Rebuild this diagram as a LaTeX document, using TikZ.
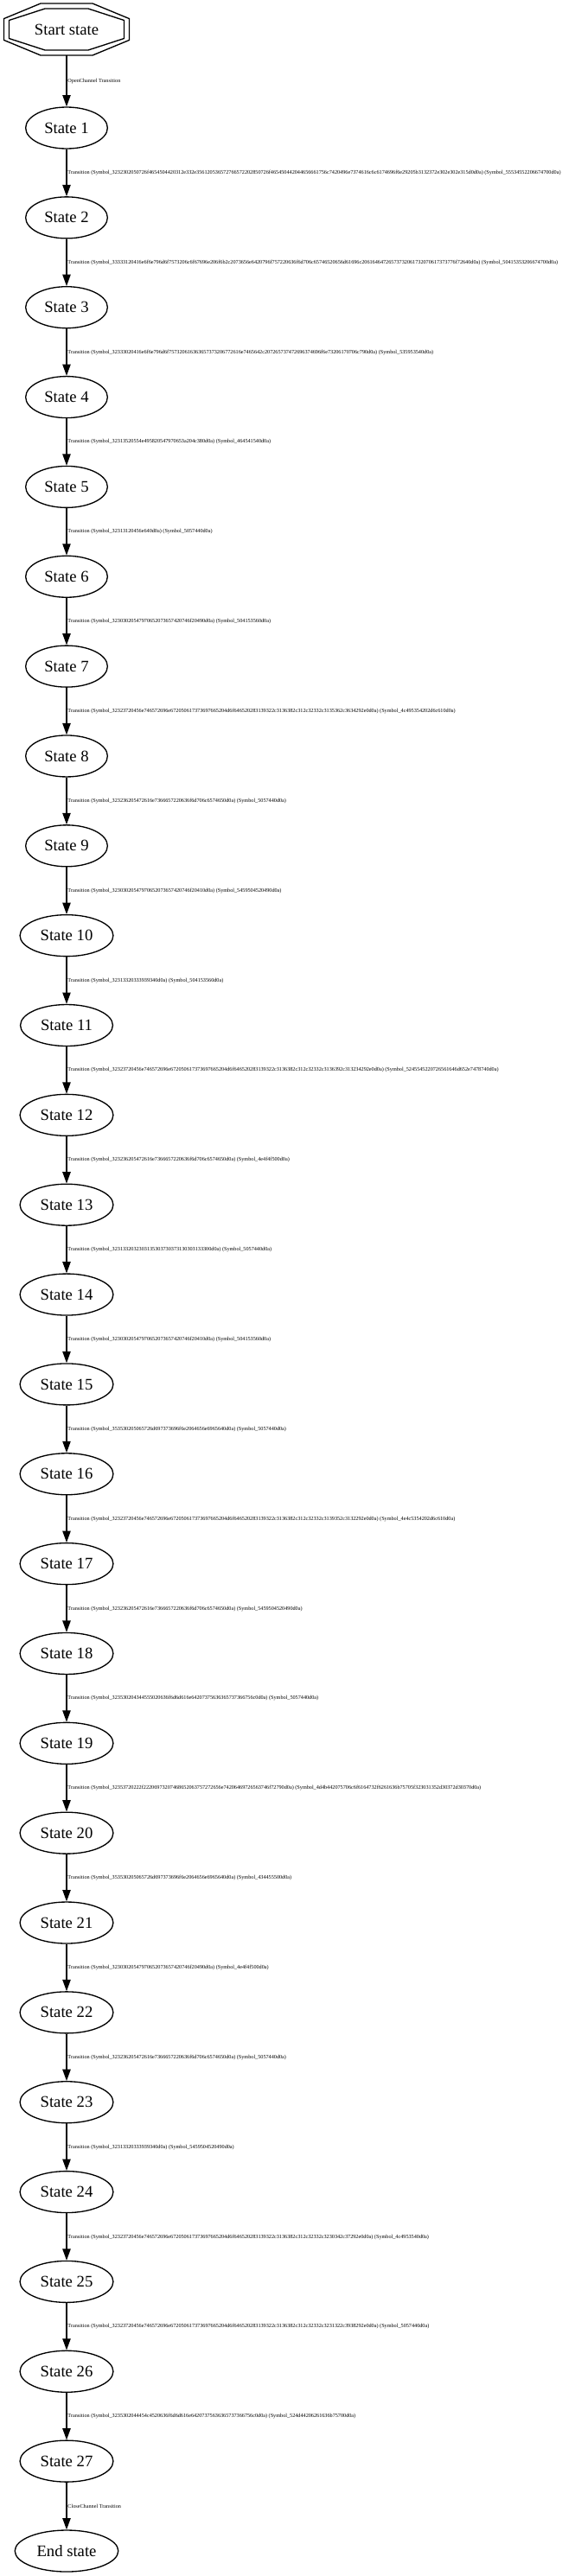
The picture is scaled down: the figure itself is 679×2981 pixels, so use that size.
\documentclass[tikz,border=0pt]{standalone}
\usepackage{fontspec}
\setmainfont{Liberation Serif}
\usetikzlibrary{arrows.meta,positioning,shapes.geometric}

\tikzset{
	state/.style={draw,ellipse,line width=1pt,minimum height=36pt,inner xsep=5.85pt,inner ysep=0pt,font=\fontsize{14}{16}\selectfont},
	edge/.style={-{Triangle[length=10pt,width=7pt]},line width=1pt},
	lab/.style={right,inner sep=0.6pt,font=\fontsize{4.65}{5}\selectfont}
}
\newcommand{\trans}[2]{Transition (Symbol\_#1) (Symbol\_#2)}

\begin{document}
\begin{tikzpicture}[x=0.75pt,y=-0.75pt]
		\useasboundingbox (0,0) rectangle (679,2981);
		% start state (double octagon)
		\node[minimum width=109pt,minimum height=45pt,inner sep=0pt,font=\fontsize{14}{16}\selectfont] (start) at (77,34) {Start state};
		\draw[line width=1pt,shift={(start)}] (-30,-30) -- (30,-30) -- (72.5,-12.4) -- (72.5,12.4) -- (30,30) -- (-30,30) -- (-72.5,12.4) -- (-72.5,-12.4) -- cycle;
		\draw[line width=1pt,shift={(start)}] (-25,-24) -- (25,-24) -- (66.5,-10.5) -- (66.5,10.5) -- (25,24) -- (-25,24) -- (-66.5,10.5) -- (-66.5,-10.5) -- cycle;
		% states
		\foreach \i in {1,...,27}
			\node[state] (s\i) at (77,{148+103.85*(\i-1)}) {State \i};
		\node[state] (stop) at (77,2952) {End state};
		% transitions
		\draw[edge] (start) -- node[lab] {OpenChannel Transition} (s1);
		\draw[edge] (s1) -- node[lab] {\trans{3232302050726f4654504420312e332e356120536572766572202850726f465450442044656661756c7420496e7374616c6c6174696f6e29205b3132372e302e302e315d0d0a}{55534552206674700d0a}} (s2);
		\draw[edge] (s2) -- node[lab] {\trans{33333120416e6f6e796d6f7573206c6f67696e206f6b2c2073656e6420796f757220636f6d706c65746520656d61696c20616464726573732061732070617373776f72640d0a}{50415353206674700d0a}} (s3);
		\draw[edge] (s3) -- node[lab] {\trans{32333020416e6f6e796d6f757320616363657373206772616e7465642c207265737472696374696f6e73206170706c790d0a}{535953540d0a}} (s4);
		\draw[edge] (s4) -- node[lab] {\trans{32313520554e495820547970653a204c380d0a}{464541540d0a}} (s5);
		\draw[edge] (s5) -- node[lab] {\trans{32313120456e640d0a}{5057440d0a}} (s6);
		\draw[edge] (s6) -- node[lab] {\trans{32303020547970652073657420746f20490d0a}{504153560d0a}} (s7);
		\draw[edge] (s7) -- node[lab] {\trans{32323720456e746572696e672050617373697665204d6f646520283139322c3136382c312c32332c3135362c3634292e0d0a}{4c495354202d6c610d0a}} (s8);
		\draw[edge] (s8) -- node[lab] {\trans{323236205472616e7366657220636f6d706c6574650d0a}{5057440d0a}} (s9);
		\draw[edge] (s9) -- node[lab] {\trans{32303020547970652073657420746f20410d0a}{5459504520490d0a}} (s10);
		\draw[edge] (s10) -- node[lab] {\trans{32313320333939340d0a}{504153560d0a}} (s11);
		\draw[edge] (s11) -- node[lab] {\trans{32323720456e746572696e672050617373697665204d6f646520283139322c3136382c312c32332c3136392c313234292e0d0a}{5245545220726561646d652e7478740d0a}} (s12);
		\draw[edge] (s12) -- node[lab] {\trans{323236205472616e7366657220636f6d706c6574650d0a}{4e4f4f500d0a}} (s13);
		\draw[edge] (s13) -- node[lab] {\trans{3231332032303135303730373130303133300d0a}{5057440d0a}} (s14);
		\draw[edge] (s14) -- node[lab] {\trans{32303020547970652073657420746f20410d0a}{504153560d0a}} (s15);
		\draw[edge] (s15) -- node[lab] {\trans{353530205065726d697373696f6e2064656e6965640d0a}{5057440d0a}} (s16);
		\draw[edge] (s16) -- node[lab] {\trans{32323720456e746572696e672050617373697665204d6f646520283139322c3136382c312c32332c3139352c3132292e0d0a}{4e4c5354202d6c610d0a}} (s17);
		\draw[edge] (s17) -- node[lab] {\trans{323236205472616e7366657220636f6d706c6574650d0a}{5459504520490d0a}} (s18);
		\draw[edge] (s18) -- node[lab] {\trans{323530204344555020636f6d6d616e64207375636365737366756c0d0a}{5057440d0a}} (s19);
		\draw[edge] (s19) -- node[lab] {\trans{32353720222f22206973207468652063757272656e74206469726563746f72790d0a}{4d4b442075706c6f6164732f6261636b75705f323031352d30372d30370d0a}} (s20);
		\draw[edge] (s20) -- node[lab] {\trans{353530205065726d697373696f6e2064656e6965640d0a}{434455500d0a}} (s21);
		\draw[edge] (s21) -- node[lab] {\trans{32303020547970652073657420746f20490d0a}{4e4f4f500d0a}} (s22);
		\draw[edge] (s22) -- node[lab] {\trans{323236205472616e7366657220636f6d706c6574650d0a}{5057440d0a}} (s23);
		\draw[edge] (s23) -- node[lab] {\trans{32313320333939340d0a}{5459504520490d0a}} (s24);
		\draw[edge] (s24) -- node[lab] {\trans{32323720456e746572696e672050617373697665204d6f646520283139322c3136382c312c32332c3230342c37292e0d0a}{4c4953540d0a}} (s25);
		\draw[edge] (s25) -- node[lab] {\trans{32323720456e746572696e672050617373697665204d6f646520283139322c3136382c312c32332c3231322c3938292e0d0a}{5057440d0a}} (s26);
		\draw[edge] (s26) -- node[lab] {\trans{3235302044454c4520636f6d6d616e64207375636365737366756c0d0a}{524d44206261636b75700d0a}} (s27);
		\draw[edge] (s27) -- node[lab] {CloseChannel Transition} (stop);
\end{tikzpicture}
\end{document}
